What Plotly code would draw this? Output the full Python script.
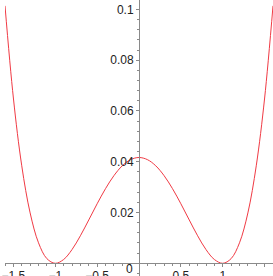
import plotly.graph_objects as go

# values
x_vals = [-1.6, -1.5, -1.4, -1.3, -1.2, -1.1, -1.0, -0.9, -0.8, -0.7, -0.6, -0.5,
          -0.4, -0.3, -0.2, -0.1, 0.0, 0.1, 0.2, 0.3, 0.4, 0.5, 0.6, 0.7, 0.8,
          0.9, 1.0, 1.1, 1.2, 1.3, 1.4, 1.5, 1.6]
y_vals = [0.1014, 0.0651, 0.0384, 0.01984, 0.00807, 0.00184, 0.0, 0.0015, 0.0054,
          0.01084, 0.01707, 0.02344, 0.0294, 0.0345, 0.0384, 0.04084, 0.04167,
          0.04084, 0.0384, 0.0345, 0.0294, 0.02344, 0.01707, 0.01084, 0.0054,
          0.0015, 0.0, 0.00184, 0.00807, 0.01984, 0.0384, 0.0651, 0.1014]

x_ticks = [-1.5, -1.0, -0.5, 0.5, 1.0, 1.5]
x_tick_labels = ["\u22121.5", "\u22121", "\u22120.5", "0.5", "1", "1.5"]
y_ticks = [0.02, 0.04, 0.06, 0.08, 0.1]
y_tick_labels = ["0.02", "0.04", "0.06", "0.08", "0.1"]

x_range = [-1.6, 1.6]
y_range = [-0.005, 0.1037]

fig = go.Figure()
fig.add_trace(go.Scatter(x=x_vals, y=y_vals, mode="lines",
                         line=dict(color="#f03a44", width=1, shape="spline"),
                         hoverinfo="skip", showlegend=False))

axis_col = "#8a8a8a"
font = dict(family="Liberation Sans, Arial, sans-serif", size=12, color="#222222")

fig.update_layout(
    width=273, height=276,
    margin=dict(l=5, r=0, t=0, b=0, autoexpand=False),
    paper_bgcolor="white", plot_bgcolor="white",
    showlegend=False,
    font=font,
    xaxis=dict(range=x_range, showgrid=False, zeroline=False, automargin=False,
               anchor="free", position=(0 - y_range[0]) / (y_range[1] - y_range[0]),
               showline=True, linecolor=axis_col, linewidth=1,
               tickmode="array", tickvals=x_ticks, ticktext=x_tick_labels,
               ticks="outside", ticklen=3, tickcolor=axis_col, tickwidth=1,
               ticklabelstandoff=-2,
               minor=dict(dtick=0.1, ticks="outside", ticklen=2, tickcolor=axis_col),
               tickfont=font),
    yaxis=dict(range=y_range, showgrid=False, zeroline=False, automargin=False,
               anchor="free", position=0.5, side="left",
               showline=True, linecolor=axis_col, linewidth=1,
               tickmode="array", tickvals=y_ticks, ticktext=y_tick_labels,
               ticks="outside", ticklen=3, tickcolor=axis_col, tickwidth=1,
               minor=dict(dtick=0.004, ticks="outside", ticklen=2, tickcolor=axis_col),
               tickfont=font),
    annotations=[dict(x=0, y=0, xref="x", yref="y", text="0", showarrow=False,
                      xanchor="right", yanchor="top", xshift=-4, yshift=3,
                      font=font)],
)

fig.write_html("out.html", config={"displayModeBar": False},
               post_script="document.body.style.margin='0px';"
                           "document.body.style.overflow='hidden';")
